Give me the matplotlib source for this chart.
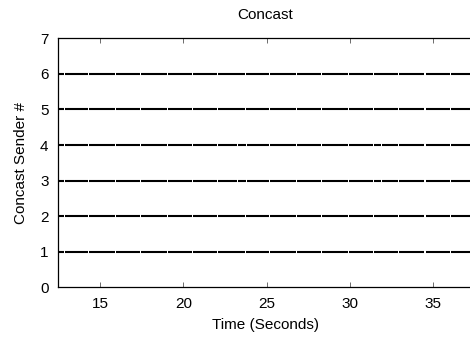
import matplotlib
matplotlib.use("Agg")
import matplotlib.pyplot as plt
import numpy as np

plt.rcParams['font.family'] = ['Liberation Sans', 'DejaVu Sans']

senders = [1, 2, 3, 4, 5, 6]
t_start = 12.5
t_end = 37.32
# gap times (seconds) in each sender's transmission trace
gaps_regular = [12.87, 14.33, 15.95, 17.43, 19.06, 20.56, 22.06, 23.72, 25.16,
                26.80, 28.30, 29.92, 31.41, 32.91, 34.51, 36.03]
gaps_extra = [12.87, 14.33, 15.95, 17.43, 19.06, 20.56, 22.06, 23.25, 23.80, 25.16,
              26.80, 28.30, 29.92, 31.41, 31.90, 32.91, 34.51, 36.03]
gaps_by_sender = {1: gaps_regular, 2: gaps_regular, 3: gaps_extra,
                  4: gaps_extra, 5: gaps_regular, 6: gaps_regular}
gap_width = 0.07

x_ticks = [15, 20, 25, 30, 35]
y_ticks = [0, 1, 2, 3, 4, 5, 6, 7]

fig = plt.figure(figsize=(4.70, 3.42), dpi=100)
ax = fig.add_axes([0.124, 0.160, 0.880, 0.728])

for s in senders:
    g = np.array(gaps_by_sender[s])
    starts = np.concatenate([[t_start], g + gap_width / 2])
    ends = np.concatenate([g - gap_width / 2, [t_end + 1]])
    ax.hlines([s] * len(starts), starts, ends, colors='black', linewidth=1.5,
              capstyle='butt')

ax.set_xlim(t_start, t_end)
ax.set_ylim(0, 7)
ax.set_xticks(x_ticks)
ax.set_yticks(y_ticks)
ax.tick_params(direction='in', length=3.5, width=0.6, labelsize=11,
               top=True, right=True, color='#555555', pad=7)
for sp in ax.spines.values():
    sp.set_linewidth(0.9)
    sp.set_color('black')
ax.set_title('Concast', fontsize=11, pad=14)
ax.set_xlabel('Time (Seconds)', fontsize=11, labelpad=5)
ax.set_ylabel('Concast Sender #', fontsize=11, labelpad=9)

fig.savefig('out.png', dpi=100)
